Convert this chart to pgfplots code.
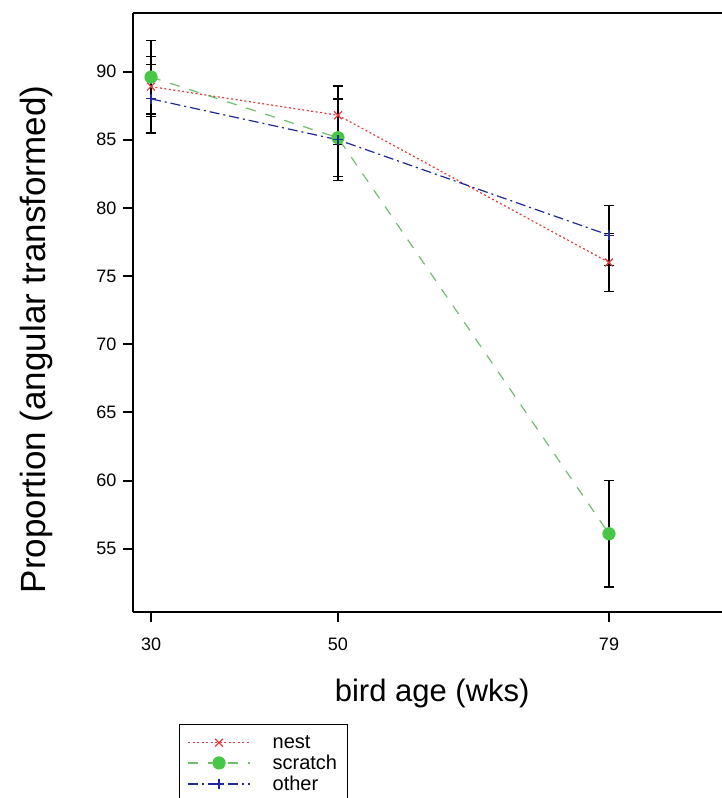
\documentclass[border=0pt]{standalone}
\usepackage{pgfplots}
\pgfplotsset{compat=1.18}
\usepackage{fontspec}
\setmainfont{Liberation Sans}
\definecolor{cNest}{RGB}{225,60,60}
\definecolor{cScr}{RGB}{70,200,70}
\definecolor{cScrL}{RGB}{110,190,110}
\definecolor{cOth}{RGB}{30,40,150}
\begin{document}
\begin{tikzpicture}
\begin{axis}[
  scale only axis, width=589pt, height=599pt,
  xmin=28.07, xmax=91.09, ymin=50.36, ymax=94.3,
  axis x line*=bottom, axis y line*=left,
  axis line style={line width=2.2pt, -},
  xtick={30,50,79}, ytick={55,60,...,90},
  tick align=outside, major tick length=10pt,
  tick style={line width=2pt, black},
  /pgf/number format/assume math mode=true,
  ticklabel style={font=\fontsize{18}{18}\selectfont},
  xticklabel style={yshift=-12pt},
  yticklabel style={xshift=-3pt},
  xlabel={bird age (wks)}, ylabel={Proportion (angular transformed)},
  xlabel style={at={(axis description cs:0.508,0)}, yshift=-81pt, anchor=center, font=\fontsize{31}{31}\selectfont},
  ylabel style={at={(axis description cs:0,0.455)}, yshift=97pt, anchor=center, font=\fontsize{35}{35}\selectfont},
  legend style={at={(0.078,-0.187)}, anchor=north west, draw=black, line width=1pt,
    font=\fontsize{20}{20}\selectfont, row sep=1pt, column sep=20pt, inner xsep=8pt, inner ysep=9pt},
  legend cell align=left,
  legend image code/.code={\draw[mark repeat=2,mark phase=2,#1] plot coordinates {(0pt,0pt) (31pt,0pt) (62pt,0pt)};},
  error bars/y dir=both, error bars/y explicit,
  error bars/error bar style={black, line width=1.3pt, solid},
  error bars/error mark options={black, rotate=90, mark size=5pt, line width=1.3pt, solid},
]
\addplot[cNest, line width=1.2pt, dash pattern=on 2pt off 2.5pt, mark=x,
  mark options={solid, mark size=5.5pt}] coordinates {
  (30,88.9) +- (0,2.2)
  (50,86.8) +- (0,2.15)
  (79,76.0) +- (0,2.15)};
\addlegendentry{nest}
\addplot[cScrL, line width=1.2pt, dash pattern=on 10pt off 10pt, mark=*,
  mark options={solid, cScr, mark size=6pt}] coordinates {
  (30,89.6) +- (0,2.7)
  (50,85.15) +- (0,2.85)
  (79,56.1) +- (0,3.9)};
\addlegendentry{scratch}
\addplot[cOth, line width=1.2pt, dash pattern=on 10pt off 4pt on 2pt off 4pt, mark=+,
  mark options={solid, mark size=5pt}] coordinates {
  (30,88.0) +- (0,2.5)
  (50,85.0) +- (0,3.0)
  (79,78.0) +- (0,2.2)};
\addlegendentry{other}
\draw[line width=2.2pt] (rel axis cs:0,1) -- (rel axis cs:1,1);
\end{axis}
\pgfresetboundingbox
\useasboundingbox (-133pt,-186pt) rectangle (589pt,612pt);
\end{tikzpicture}
\end{document}
